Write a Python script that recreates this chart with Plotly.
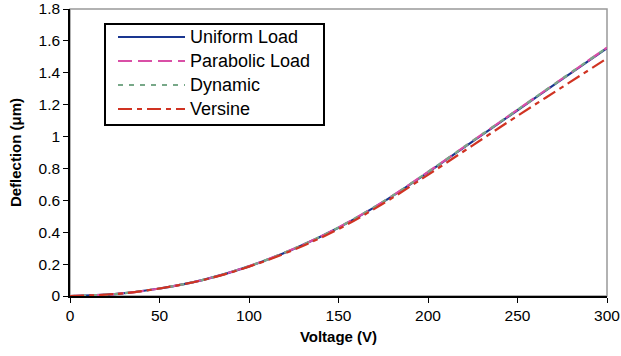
import plotly.graph_objects as go

voltage = [0, 25, 50, 75, 100, 125, 150, 175, 200, 225, 250, 275, 300]
uniform_load = [0, 0.012, 0.047, 0.103, 0.186, 0.295, 0.428, 0.59, 0.775, 0.97, 1.165, 1.36, 1.555]
parabolic_load = [0, 0.012, 0.047, 0.103, 0.187, 0.296, 0.430, 0.592, 0.778, 0.973, 1.168, 1.363, 1.558]
dynamic = [0, 0.012, 0.047, 0.103, 0.187, 0.296, 0.430, 0.592, 0.778, 0.973, 1.168, 1.363, 1.558]
versine = [0, 0.012, 0.047, 0.102, 0.184, 0.29, 0.42, 0.58, 0.76, 0.945, 1.13, 1.31, 1.49]

names = ["Uniform Load", "Parabolic Load", "Dynamic", "Versine"]
series = [uniform_load, parabolic_load, dynamic, versine]
colors = ["#1a3690", "#d94fa6", "#78a888", "#d03322"]
dashes = ["solid", "14px,6px", "5px,6px", "14px,5px,5px,5px"]

x_ticks = [0, 50, 100, 150, 200, 250, 300]
y_ticks = [0, 0.2, 0.4, 0.6, 0.8, 1, 1.2, 1.4, 1.6, 1.8]
y_tick_text = ["0", "0.2", "0.4", "0.6", "0.8", "1", "1.2", "1.4", "1.6", "1.8"]

fig = go.Figure()
for name, ys, c, d in zip(names, series, colors, dashes):
    fig.add_trace(go.Scatter(x=voltage, y=ys, mode="lines", name=name,
                             line=dict(color=c, width=2.2, dash=d, shape="spline"),
                             showlegend=False))

W, H = 621, 356
L, R, T, B = 70, 14, 9, 60
pw, ph = W - L - R, H - T - B

def px(x):
    return (x - L) / pw

def py(y):
    return (H - B - y) / ph

shapes = [
    dict(type="rect", xref="paper", yref="paper", x0=0, x1=1, y0=0, y1=1,
         line=dict(color="#999999", width=1.5), layer="below"),
    dict(type="rect", xref="paper", yref="paper", x0=px(105), x1=px(324), y0=py(125), y1=py(24),
         line=dict(color="black", width=2), fillcolor="white", layer="above"),
]
annotations = []
rows = [37, 61, 85, 109]
for name, c, d, r in zip(names, colors, dashes, rows):
    shapes.append(dict(type="line", xref="paper", yref="paper", x0=px(118), x1=px(185),
                       y0=py(r), y1=py(r), line=dict(color=c, width=2.2, dash=d), layer="above"))
    annotations.append(dict(xref="paper", yref="paper", x=px(188), y=py(r), text=name,
                            showarrow=False, xanchor="left", yanchor="middle",
                            font=dict(family="Liberation Sans, Arial", size=18, color="black")))

fig.update_layout(
    width=W, height=H,
    margin=dict(l=L, r=R, t=T, b=B, pad=0, autoexpand=False),
    paper_bgcolor="white", plot_bgcolor="white",
    font=dict(family="Liberation Sans, Arial", size=15.5, color="black"),
    shapes=shapes, annotations=annotations,
    xaxis=dict(range=[0, 300], tickvals=x_ticks, showgrid=False, zeroline=False, automargin=False,
               showline=True, linecolor="black", linewidth=1.5,
               ticks="outside", ticklen=5, tickcolor="black", tickwidth=1.2,
               title=dict(text="<b>Voltage (V)</b>", font=dict(size=15), standoff=8)),
    yaxis=dict(range=[0, 1.8], tickvals=y_ticks, ticktext=y_tick_text, showgrid=False, zeroline=False,
               automargin=False,
               showline=True, linecolor="black", linewidth=1.5,
               ticks="outside", ticklen=5, tickcolor="black", tickwidth=1.2,
               title=dict(text="<b>Deflection (μm)</b>", font=dict(size=15), standoff=13)),
)

fig.write_html("out.html")
